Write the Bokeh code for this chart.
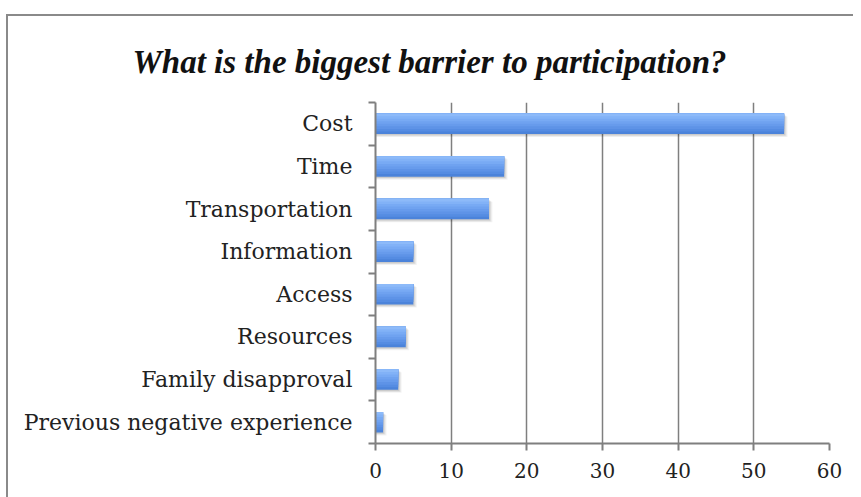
from bokeh.plotting import figure
from bokeh.models import FixedTicker, Range1d
from bokeh.embed import file_html
from bokeh.resources import INLINE

categories = ["Cost", "Time", "Transportation", "Information", "Access",
              "Resources", "Family disapproval", "Previous negative experience"]
values = [54, 17, 15, 5, 5, 4, 3, 1]
x_ticks = [0, 10, 20, 30, 40, 50, 60]
title_text = "What is the biggest barrier to participation?"

n = len(categories)
ypos = [n - 0.5 - i for i in range(n)]

p = figure(width=845, height=481, output_backend="svg", toolbar_location=None,
           x_range=Range1d(0, 60), y_range=Range1d(0, n),
           min_border_left=367, min_border_right=24, min_border_top=86, min_border_bottom=54)
p.frame_width = 454
p.frame_height = 341
p.outline_line_color = None
p.background_fill_color = "white"
p.border_fill_color = "white"
p.styles = {"border-top": "2px solid #8a8a8a", "border-left": "2px solid #8a8a8a",
            "margin-top": "14px", "margin-left": "6px"}

h = 0.48
# soft shadow
for dy, dx, a in [(0.07, 0.45, 0.05), (0.05, 0.3, 0.07), (0.03, 0.15, 0.09)]:
    p.hbar(y=[y - dy for y in ypos], right=[v + dx for v in values], left=0, height=h,
           fill_color="#000000", fill_alpha=a, line_color=None)
# vertical gradient: darkest drawn full, lighter ones cover the upper part
cols = ["#8dbaf9", "#82b2f7", "#78aaf4", "#6fa2f0", "#679bec", "#5e93e7", "#558ce2", "#4b83da"]
k = len(cols)
for j in range(k - 1, -1, -1):
    hh = h * (j + 1) / k
    p.hbar(y=[y + h / 2 - hh / 2 for y in ypos], right=values, left=0, height=hh,
           fill_color=cols[j], line_color=None)

# title
p.title.text = title_text
p.title.align = "left"
p.title.offset = -243
p.title.text_font = "Liberation Serif"
p.title.text_font_style = "bold italic"
p.title.text_font_size = "33px"
p.title.text_color = "#111111"
p.title.standoff = 46

# axes
p.xaxis.ticker = FixedTicker(ticks=x_ticks)
p.xaxis.axis_line_color = "#7f7f7f"
p.xaxis.axis_line_width = 2
p.xaxis.major_tick_line_color = "#7f7f7f"
p.xaxis.major_tick_line_width = 2
p.xaxis.major_tick_out = 7
p.xaxis.major_tick_in = 0
p.xaxis.minor_tick_line_color = None
p.xaxis.major_label_text_font = "DejaVu Serif"
p.xaxis.major_label_text_font_size = "20px"
p.xaxis.major_label_text_color = "#222222"
p.xaxis.major_label_standoff = 12

p.yaxis.ticker = FixedTicker(ticks=ypos, minor_ticks=list(range(n + 1)))
p.yaxis.major_label_overrides = {y: c for y, c in zip(ypos, categories)}
p.yaxis.axis_line_color = "#7f7f7f"
p.yaxis.axis_line_width = 2
p.yaxis.major_tick_line_color = None
p.yaxis.minor_tick_line_color = "#7f7f7f"
p.yaxis.minor_tick_line_width = 2
p.yaxis.minor_tick_out = 7
p.yaxis.minor_tick_in = 0
p.yaxis.major_label_text_font = "DejaVu Serif"
p.yaxis.major_label_text_font_size = "22px"
p.yaxis.major_label_text_color = "#222222"
p.yaxis.major_label_standoff = 16

p.xgrid.ticker = FixedTicker(ticks=x_ticks[1:])
p.xgrid.grid_line_color = "#7f7f7f"
p.xgrid.grid_line_width = 1.5
p.ygrid.grid_line_color = None

open("out.html", "w").write(file_html(p, INLINE))
